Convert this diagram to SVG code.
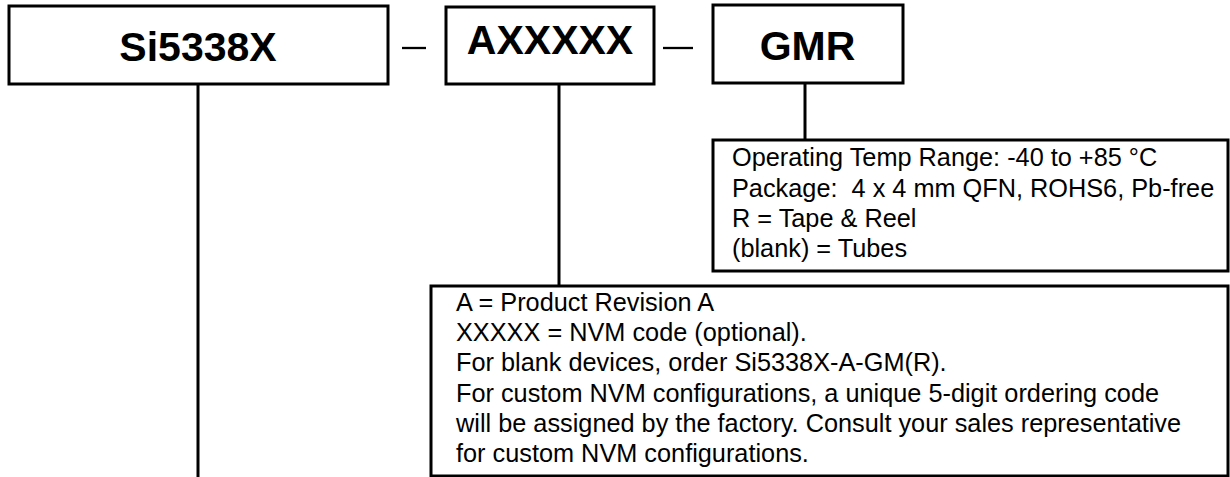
<svg xmlns="http://www.w3.org/2000/svg" width="1230" height="477" viewBox="0 0 1230 477">
<style>
.box{fill:#fff;stroke:#000;stroke-width:3}
.con{fill:none;stroke:#000;stroke-width:3}
.dash{stroke:#000;stroke-width:2.3}
.big{font-family:"Liberation Sans",Arial,sans-serif;font-weight:bold;font-size:41px;fill:#000;text-anchor:middle}
.desc{font-family:"Liberation Sans",Arial,sans-serif;font-size:25.3px;fill:#000}
</style>
<rect width="1230" height="477" fill="#fff"/>
<g id="connectors">
<line class="con" x1="198" y1="84" x2="198" y2="477"/>
<line class="con" x1="559" y1="84" x2="559" y2="286"/>
<line class="con" x1="805" y1="83" x2="805" y2="140"/>
<line class="dash" x1="402" y1="48" x2="426" y2="48"/>
<line class="dash" x1="663" y1="48" x2="693" y2="48"/>
</g>
<g id="node-si5338x">
<rect class="box" x="9" y="6" width="379" height="78"/>
<text class="big" x="198" y="61">Si5338X</text>
</g>
<g id="node-axxxxx">
<rect class="box" x="446" y="7" width="208" height="77"/>
<text class="big" x="550" y="54">AXXXXX</text>
</g>
<g id="node-gmr">
<rect class="box" x="713" y="5" width="190" height="78"/>
<text class="big" x="807.5" y="60">GMR</text>
</g>
<g id="node-gmr-desc">
<rect class="box" x="713" y="140" width="515" height="131"/>
<text class="desc" x="732" y="166">Operating Temp Range: -40 to +85 °C</text>
<text class="desc" x="732" y="196.5" xml:space="preserve">Package:  4 x 4 mm QFN, ROHS6, Pb-free</text>
<text class="desc" x="732" y="227">R = Tape &amp; Reel</text>
<text class="desc" x="732" y="257">(blank) = Tubes</text>
</g>
<g id="node-axxxxx-desc">
<rect class="box" x="431" y="286" width="797" height="190"/>
<text class="desc" x="456" y="311">A = Product Revision A</text>
<text class="desc" x="456" y="341">XXXXX = NVM code (optional).</text>
<text class="desc" x="456" y="371">For blank devices, order Si5338X-A-GM(R).</text>
<text class="desc" x="456" y="401.5">For custom NVM configurations, a unique 5-digit ordering code</text>
<text class="desc" x="456" y="432">will be assigned by the factory. Consult your sales representative</text>
<text class="desc" x="456" y="462">for custom NVM configurations.</text>
</g>
</svg>
